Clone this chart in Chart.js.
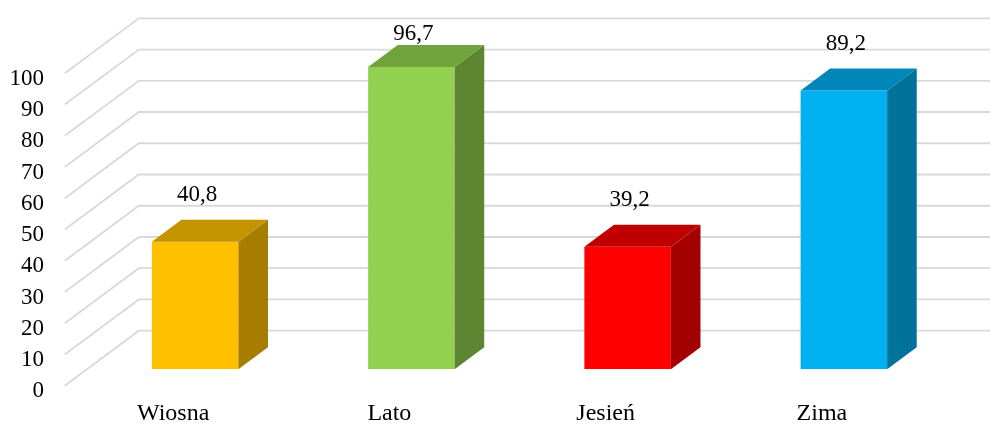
<!DOCTYPE html>
<html lang="pl">
<head>
<meta charset="utf-8">
<title>Pory roku</title>
<script src="https://cdn.jsdelivr.net/npm/chart.js@4.4.1/dist/chart.umd.min.js"></script>
<style>
  html, body { margin: 0; padding: 0; background: #ffffff; }
  #wrap { width: 990px; height: 426px; position: relative; }
</style>
</head>
<body>
<div id="wrap"><canvas id="chart" width="990" height="426"></canvas></div>
<script>
// Seasons and their values
const categories = ['Wiosna', 'Lato', 'Jesień', 'Zima'];
const values = [40.8, 96.7, 39.2, 89.2];
const yTicks = [0, 10, 20, 30, 40, 50, 60, 70, 80, 90, 100];

// Face colours of each column: front, top, side
const frontColors = ['#FFC000', '#92D050', '#FF0000', '#00B0F0'];
const topColors = ['#C49300', '#70A33B', '#C00000', '#0086B8'];
const sideColors = ['#A67D00', '#5E8532', '#A30000', '#00729C'];

// Depth of the 3D box (floor depth in pixels) and where the columns sit inside it
const DEPTH = { dx: 74, dy: -55 };
const FRONT = 0.3;   // columns' front face, as a fraction of the depth
const COLUMN = 0.4;  // column depth, as a fraction of the depth

const serif = '"Liberation Serif", "Times New Roman", serif';

// Side wall + back wall grid, drawn behind the columns
const wallGrid = {
  id: 'wallGrid',
  beforeDatasetsDraw(chart) {
    const { ctx, chartArea, scales } = chart;
    const y = scales.y;
    const fx = -FRONT * DEPTH.dx, fy = -FRONT * DEPTH.dy;
    const bx = (1 - FRONT) * DEPTH.dx, by = (1 - FRONT) * DEPTH.dy;
    ctx.save();
    ctx.strokeStyle = '#D9D9D9';
    ctx.lineWidth = 1.8;
    y.ticks.forEach(t => {
      const py = y.getPixelForValue(t.value);
      ctx.beginPath();
      ctx.moveTo(chartArea.left + fx, py + fy);
      ctx.lineTo(chartArea.left + bx, py + by);
      ctx.lineTo(chartArea.right + bx, py + by);
      ctx.stroke();
    });
    ctx.restore();
  }
};

// Top and side faces of each column plus the value labels
const columns3d = {
  id: 'columns3d',
  afterDatasetsDraw(chart) {
    const { ctx, chartArea } = chart;
    const meta = chart.getDatasetMeta(0);
    const dx = COLUMN * DEPTH.dx, dy = COLUMN * DEPTH.dy;
    ctx.save();
    meta.data.forEach((bar, i) => {
      const l = bar.x - bar.width / 2, r = bar.x + bar.width / 2;
      const top = bar.y, base = bar.base;
      // side face
      ctx.fillStyle = sideColors[i];
      ctx.beginPath();
      ctx.moveTo(r, base);
      ctx.lineTo(r + dx, base + dy);
      ctx.lineTo(r + dx, top + dy);
      ctx.lineTo(r, top);
      ctx.closePath();
      ctx.fill();
      // top face
      ctx.fillStyle = topColors[i];
      ctx.beginPath();
      ctx.moveTo(l, top);
      ctx.lineTo(l + dx, top + dy);
      ctx.lineTo(r + dx, top + dy);
      ctx.lineTo(r, top);
      ctx.closePath();
      ctx.fill();
      // value label, kept inside the plot's upper edge
      ctx.fillStyle = '#000000';
      ctx.font = '23px ' + serif;
      ctx.textAlign = 'center';
      ctx.textBaseline = 'middle';
      const txt = values[i].toFixed(1).replace('.', ',');
      const ly = Math.max(top + dy - 25, chartArea.top - 23);
      ctx.fillText(txt, bar.x + 2, ly);
    });
    ctx.restore();
  }
};

new Chart(document.getElementById('chart'), {
  type: 'bar',
  data: {
    labels: categories,
    datasets: [{
      data: values,
      backgroundColor: frontColors,
      borderWidth: 0,
      barPercentage: 0.4,
      categoryPercentage: 1.0
    }]
  },
  options: {
    responsive: false,
    devicePixelRatio: 1,
    animation: false,
    layout: { padding: { top: 55, right: 38, left: 0, bottom: 0 } },
    plugins: {
      legend: { display: false },
      tooltip: { enabled: false }
    },
    scales: {
      x: {
        grid: { display: false, drawTicks: false },
        border: { display: false },
        afterFit(scale) { scale.height = 54; },
        ticks: {
          color: '#000000',
          font: { family: serif, size: 24 },
          padding: 30,
          labelOffset: -22,
          maxRotation: 0
        }
      },
      y: {
        min: 0,
        max: 100,
        grid: { display: false, drawTicks: false },
        border: { display: false },
        afterFit(scale) { scale.width = 87; },
        afterBuildTicks(scale) { scale.ticks = yTicks.map(v => ({ value: v })); },
        ticks: {
          color: '#000000',
          font: { family: serif, size: 23 },
          padding: 43,
          labelOffset: 22,
          autoSkip: false
        }
      }
    }
  },
  plugins: [wallGrid, columns3d]
});
</script>
</body>
</html>
